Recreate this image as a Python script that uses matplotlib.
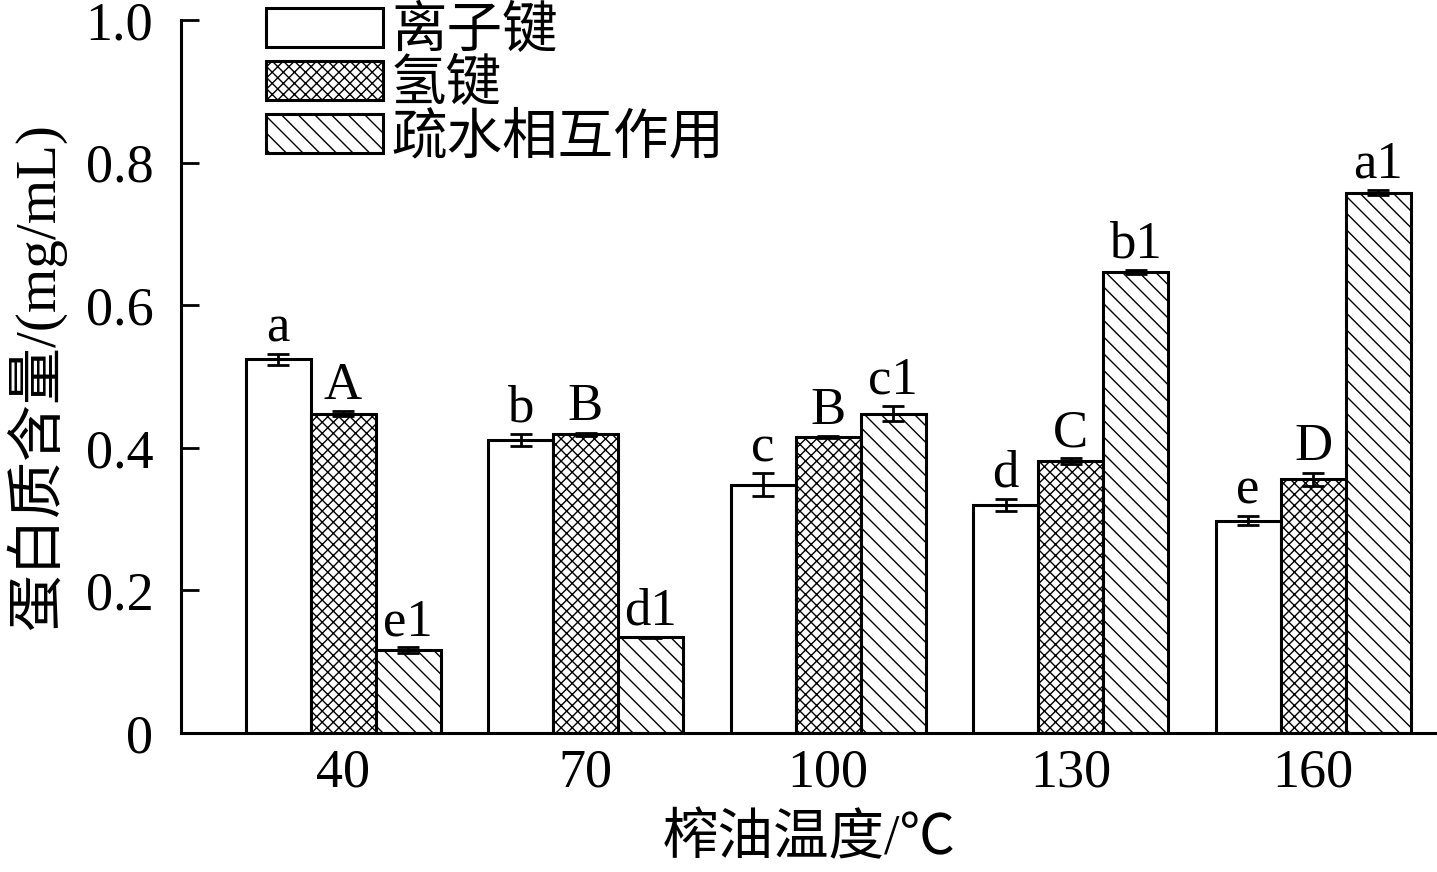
import matplotlib.pyplot as plt
import numpy as np

plt.rcParams['font.family'] = ['Liberation Serif', 'Noto Sans CJK SC']
plt.rcParams['hatch.linewidth'] = 1.0

temps = ['40', '70', '100', '130', '160']
series_names = ['离子键', '氢键', '疏水相互作用']

ionic = [0.524, 0.411, 0.348, 0.320, 0.298]
ionic_err = [0.008, 0.008, 0.016, 0.008, 0.006]
ionic_lbl = ['a', 'b', 'c', 'd', 'e']

hbond = [0.448, 0.419, 0.415, 0.381, 0.356]
hbond_err = [0.003, 0.002, 0.001, 0.004, 0.009]
hbond_lbl = ['A', 'B', 'B', 'C', 'D']

hydro = [0.116, 0.134, 0.448, 0.647, 0.758]
hydro_err = [0.004, 0.001, 0.011, 0.003, 0.004]
hydro_lbl = ['e1', 'd1', 'c1', 'b1', 'a1']

fig = plt.figure(figsize=(14.37, 8.72), dpi=100)
ax = fig.add_axes([0.126, 0.1594, 0.874, 0.8177])

x = np.arange(len(temps))
w = 0.268
lw = 2.2

groups = [
    (ionic, ionic_err, ionic_lbl, '', -w),
    (hbond, hbond_err, hbond_lbl, 'xxx', 0),
    (hydro, hydro_err, hydro_lbl, '\\\\', w),
]

handles = []
for (vals, errs, lbls, hatch, off), name in zip(groups, series_names):
    b = ax.bar(x + off, vals, w, color='white', edgecolor='black',
               linewidth=lw, hatch=hatch, label=name, zorder=2)
    handles.append(b)
    ax.errorbar(x + off, vals, yerr=errs, fmt='none', ecolor='black',
                elinewidth=2, capsize=8, capthick=2, zorder=3)
    for xi, v, e, t in zip(x + off, vals, errs, lbls):
        ax.text(xi, v + e + 0.002, t, ha='center', va='bottom', fontsize=38)

ax.set_xlim(-0.668, 4.511)
ax.set_ylim(0, 1.0)
ax.set_xticks(x)
ax.set_xticklabels(temps)
ax.set_yticks([0, 0.2, 0.4, 0.6, 0.8, 1.0])
ax.set_yticklabels(['0', '0.2', '0.4', '0.6', '0.8', '1.0'])
ax.tick_params(axis='both', direction='in', labelsize=39, width=2)
ax.tick_params(axis='y', length=13, pad=20)
ax.tick_params(axis='x', length=10, pad=11)

for s in ['top', 'right']:
    ax.spines[s].set_visible(False)
for s in ['left', 'bottom']:
    ax.spines[s].set_linewidth(2.2)

ax.set_xlabel('榨油温度/℃', fontsize=40, labelpad=11)
ax.set_ylabel('蛋白质含量/(mg/mL)', fontsize=41, labelpad=14)

leg = ax.legend(handles=handles, loc='upper left', bbox_to_anchor=(0.05, 1.05),
                frameon=False, fontsize=40, handlelength=2.1, handleheight=0.7,
                labelspacing=0.02, handletextpad=0.15, borderaxespad=0)

plt.savefig('out.png', dpi=100)
